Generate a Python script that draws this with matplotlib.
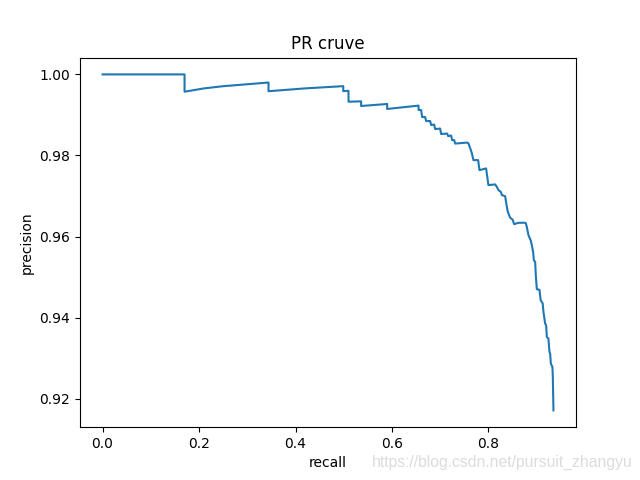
import matplotlib
matplotlib.use("Agg")
import matplotlib.pyplot as plt

# recall / precision points
recall = [0.0, 0.170, 0.170, 0.21, 0.25, 0.30, 0.344, 0.344, 0.42, 0.499, 0.499,
          0.5097, 0.510, 0.536, 0.536, 0.590, 0.590, 0.655,
          0.6552, 0.6604, 0.6625, 0.6687, 0.6708, 0.6791, 0.6812, 0.6874, 0.6895,
          0.6998, 0.7019, 0.7144, 0.7164, 0.7226, 0.7247, 0.7289, 0.7310, 0.7558,
          0.7585, 0.7620, 0.7655, 0.7688, 0.7786, 0.7813, 0.7951, 0.7999, 0.8138,
          0.8173, 0.8207, 0.8256, 0.8277, 0.8345, 0.8381, 0.8401, 0.8449, 0.8501,
          0.8532, 0.8615, 0.8740, 0.8775, 0.8795, 0.8829, 0.8874, 0.8899, 0.8926,
          0.8940, 0.8968, 0.8982, 0.9003, 0.9057, 0.9082, 0.9123, 0.9140, 0.9175,
          0.9195, 0.9210, 0.9243, 0.9264, 0.9279, 0.9293, 0.9326, 0.9334, 0.9347]
precision = [1.0, 1.0, 0.99573, 0.99654, 0.99709, 0.99757, 0.99800, 0.99585, 0.99655,
             0.99710, 0.99588, 0.99595, 0.99326, 0.99335, 0.99220, 0.99270, 0.99147,
             0.99230,
             0.99121, 0.99121, 0.98948, 0.98948, 0.98849, 0.98849, 0.98750, 0.98762,
             0.98651, 0.98664, 0.98528, 0.98540, 0.98478, 0.98491, 0.98379, 0.98379,
             0.98293, 0.98318,
             0.98298, 0.98182, 0.98058, 0.97885, 0.97885, 0.97638, 0.97680, 0.97268,
             0.97285, 0.97226, 0.97144, 0.97102, 0.97021, 0.96996, 0.96732, 0.96608,
             0.96465, 0.96415, 0.96304, 0.96337, 0.96341, 0.96329, 0.96230, 0.96033,
             0.95909, 0.95786, 0.95613, 0.95415, 0.95373, 0.95020, 0.94699, 0.94686,
             0.94427, 0.94353, 0.94138, 0.93851, 0.93809, 0.93520, 0.93481, 0.93150,
             0.93110, 0.92863, 0.92779, 0.92532, 0.91709]

fig = plt.figure(figsize=(6.4, 4.8), dpi=100)
plt.plot(recall, precision)
plt.title("PR cruve")
plt.xlabel("recall")
plt.ylabel("precision")

# watermark
fig.text(0.988, 0.037, "https://blog.csdn.net/pursuit_zhangyu", ha="right", va="center",
         fontsize=11.3, family="Liberation Sans", color="#dcdcdc")

plt.savefig("out.png", dpi=100)
